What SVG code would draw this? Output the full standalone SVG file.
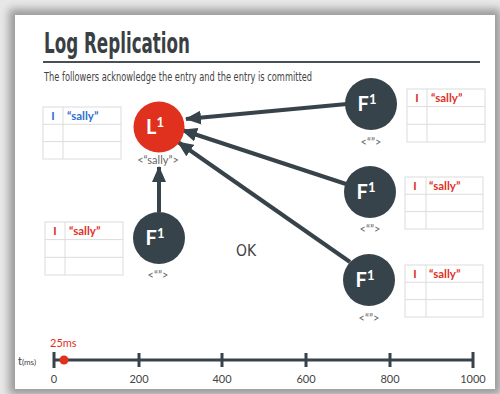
<svg xmlns="http://www.w3.org/2000/svg" width="500" height="394" viewBox="0 0 500 394">
<defs>
<filter id="sh" x="-10%" y="-10%" width="120%" height="120%"><feGaussianBlur stdDeviation="4"/></filter>
<marker id="ah" viewBox="0 0 16 14" refX="15" refY="7" markerWidth="16" markerHeight="14" markerUnits="userSpaceOnUse" orient="auto"><path d="M0,0 L16,7 L0,14 z" fill="#37434a"/></marker>
<style>
.cn{fill:#37434a}
.cl{fill:#fff;font-family:Lato,"DejaVu Sans",sans-serif;font-weight:bold;font-size:20px;text-anchor:middle}
.sup{font-size:13px}
.lab{fill:#666;font-family:Lato,"DejaVu Sans",sans-serif;font-size:11px;text-anchor:middle}
.tb{fill:#fff;stroke:#dcdcdc;stroke-width:1}
.tt{font-family:Lato,"DejaVu Sans",sans-serif;font-size:11.5px;font-weight:bold}
.red{fill:#e0311e}
.blue{fill:#2f6fce}
.ax{fill:#444;font-family:Lato,"DejaVu Sans",sans-serif;font-size:11px;text-anchor:middle}
.conn line{stroke:#37434a;stroke-width:4;marker-end:url(#ah)}
</style>
</defs>
<rect x="0" y="0" width="500" height="394" fill="#e8e8e8"/>
<rect x="9" y="9" width="492" height="386" fill="#9a9a9a" filter="url(#sh)"/>
<rect x="15" y="15" width="480" height="374" fill="#fff"/>
<g id="title">
<text x="44" y="53" font-family="'DejaVu Sans Condensed','DejaVu Sans',sans-serif" font-weight="bold" font-size="28" fill="#3a3f44" textLength="146" lengthAdjust="spacingAndGlyphs">Log Replication</text>
<line x1="43" y1="62" x2="480" y2="62" stroke="#4a4f54" stroke-width="2"/>
<text x="44" y="81" font-family="'DejaVu Sans Condensed','DejaVu Sans',sans-serif" font-size="11.5" fill="#444" textLength="268" lengthAdjust="spacingAndGlyphs">The followers acknowledge the entry and the entry is committed</text>
</g>
<g class="conn" id="connectors">
<line x1="347" y1="104" x2="186" y2="119"/>
<line x1="346" y1="184" x2="182" y2="130"/>
<line x1="350" y1="262" x2="178" y2="142"/>
<line x1="159" y1="212" x2="159" y2="167"/>
</g>
<g id="leader">
<circle cx="159" cy="127" r="25.5" fill="#e0311e"/>
<text class="cl" x="155" y="134">L<tspan class="sup" dy="-7">1</tspan></text>
<text class="lab" x="158" y="164">&lt;“sally”&gt;</text>
<g id="leader-log">
<rect class="tb" x="43" y="107" width="78" height="52"/>
<line x1="43" y1="124.3" x2="121" y2="124.3" stroke="#dcdcdc"/>
<line x1="43" y1="141.6" x2="121" y2="141.6" stroke="#dcdcdc"/>
<line x1="63" y1="107" x2="63" y2="159" stroke="#dcdcdc"/>
<text class="tt blue" x="53" y="120" text-anchor="middle">I</text>
<text class="tt blue" x="67" y="120">“sally”</text>
</g>
</g>
<g id="f-bottom-left">
<circle class="cn" cx="159" cy="238" r="26"/>
<text class="cl" x="155" y="245">F<tspan class="sup" dy="-7">1</tspan></text>
<text class="lab" x="158" y="279">&lt;“”&gt;</text>
<rect class="tb" x="45" y="222" width="78" height="53"/>
<line x1="45" y1="239.6" x2="123" y2="239.6" stroke="#dcdcdc"/>
<line x1="45" y1="257.3" x2="123" y2="257.3" stroke="#dcdcdc"/>
<line x1="65" y1="222" x2="65" y2="275" stroke="#dcdcdc"/>
<text class="tt red" x="55" y="235" text-anchor="middle">I</text>
<text class="tt red" x="69" y="235">“sally”</text>
</g>
<g id="f-top-right">
<circle class="cn" cx="371" cy="104" r="26"/>
<text class="cl" x="367" y="111">F<tspan class="sup" dy="-7">1</tspan></text>
<text class="lab" x="371" y="146">&lt;“”&gt;</text>
<rect class="tb" x="407" y="89" width="78" height="53"/>
<line x1="407" y1="106.6" x2="485" y2="106.6" stroke="#dcdcdc"/>
<line x1="407" y1="124.3" x2="485" y2="124.3" stroke="#dcdcdc"/>
<line x1="427" y1="89" x2="427" y2="142" stroke="#dcdcdc"/>
<text class="tt red" x="417" y="102" text-anchor="middle">I</text>
<text class="tt red" x="431" y="102">“sally”</text>
</g>
<g id="f-mid-right">
<circle class="cn" cx="370" cy="192" r="26"/>
<text class="cl" x="366" y="199">F<tspan class="sup" dy="-7">1</tspan></text>
<text class="lab" x="370" y="233">&lt;“”&gt;</text>
<rect class="tb" x="405" y="177" width="78" height="52"/>
<line x1="405" y1="194.3" x2="483" y2="194.3" stroke="#dcdcdc"/>
<line x1="405" y1="211.6" x2="483" y2="211.6" stroke="#dcdcdc"/>
<line x1="426" y1="177" x2="426" y2="229" stroke="#dcdcdc"/>
<text class="tt red" x="415" y="190" text-anchor="middle">I</text>
<text class="tt red" x="429" y="190">“sally”</text>
</g>
<g id="f-bottom-right">
<circle class="cn" cx="369" cy="280" r="26"/>
<text class="cl" x="365" y="287">F<tspan class="sup" dy="-7">1</tspan></text>
<text class="lab" x="369" y="322">&lt;“”&gt;</text>
<rect class="tb" x="405" y="265" width="78" height="52"/>
<line x1="405" y1="282.3" x2="483" y2="282.3" stroke="#dcdcdc"/>
<line x1="405" y1="299.6" x2="483" y2="299.6" stroke="#dcdcdc"/>
<line x1="426" y1="265" x2="426" y2="317" stroke="#dcdcdc"/>
<text class="tt red" x="415" y="278" text-anchor="middle">I</text>
<text class="tt red" x="429" y="278">“sally”</text>
</g>
<text x="246" y="256" font-family="'DejaVu Sans Condensed','DejaVu Sans',sans-serif" font-size="16" fill="#444" text-anchor="middle" textLength="20" lengthAdjust="spacingAndGlyphs">OK</text>
<g id="timeline">
<line x1="54" y1="360" x2="473" y2="360" stroke="#37434a" stroke-width="3"/>
<g stroke="#37434a" stroke-width="3">
<line x1="54" y1="352" x2="54" y2="368"/>
<line x1="139" y1="353" x2="139" y2="367"/>
<line x1="222" y1="353" x2="222" y2="367"/>
<line x1="306" y1="353" x2="306" y2="367"/>
<line x1="390" y1="353" x2="390" y2="367"/>
<line x1="473" y1="352" x2="473" y2="368"/>
</g>
<circle cx="64" cy="360" r="4.5" fill="#e0311e"/>
<text x="50" y="347" font-family="Lato,'DejaVu Sans',sans-serif" font-size="11" fill="#e0311e">25ms</text>
<text x="18" y="365" font-family="Lato,'DejaVu Sans',sans-serif" font-size="11" fill="#444">t<tspan font-size="8">(ms)</tspan></text>
<text class="ax" x="54" y="383">0</text>
<text class="ax" x="139" y="383">200</text>
<text class="ax" x="222" y="383">400</text>
<text class="ax" x="306" y="383">600</text>
<text class="ax" x="390" y="383">800</text>
<text class="ax" x="473" y="383">1000</text>
</g>
</svg>
